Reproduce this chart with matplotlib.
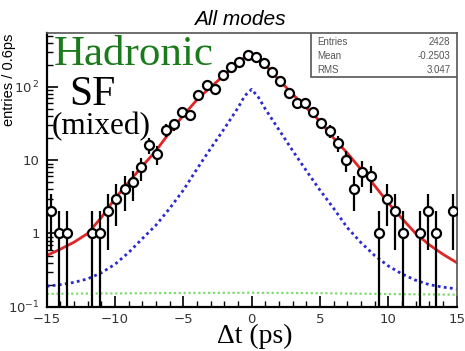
import matplotlib
matplotlib.use("Agg")
import matplotlib.pyplot as plt
from matplotlib.ticker import FixedLocator, LogLocator, MultipleLocator, NullFormatter
import numpy as np

# histogram: 50 bins of 0.6 ps, centres from -14.7 to 14.7
bin_centers = np.arange(50) * 0.6 - 14.7
counts = [2, 1, 1, 0, 0, 1, 1, 2, 3, 4,
          5, 8, 16, 12, 26, 31, 46, 42, 78, 107,
          93, 148, 186, 220, 272, 253, 210, 162, 122, 83,
          60, 60, 45, 32, 25, 17, 10, 4, 7, 6,
          1, 3, 2, 1, 0, 1, 2, 1, 0, 2]

# fit curves
curve_t = [-15, -14, -13, -12, -11, -10, -9, -8, -7, -6, -5, -4, -3, -2, -1, -0.5,
           0, 0.5, 1, 2, 3, 4, 5, 6, 7, 8, 9, 10, 11, 12, 13, 14, 15]
total_fit = [0.5, 0.61, 0.76, 1.0, 1.65, 3.0, 5.0, 8.3, 13.5, 24, 41, 67, 100, 145, 215, 255,
             275, 255, 200, 125, 80, 52, 34, 20, 12.5, 7.5, 4.5, 2.6, 1.6, 1.0, 0.7, 0.52, 0.4]
signal_fit = [0.19, 0.20, 0.215, 0.24, 0.29, 0.38, 0.55, 0.85, 1.3, 2.2, 3.9, 7.6, 14.5, 27, 52, 76,
              93, 72, 50, 26, 13.5, 7.2, 3.9, 2.2, 1.2, 0.75, 0.5, 0.36, 0.28, 0.23, 0.2, 0.185, 0.175]
bkg_t = [-15, -10, -5, 0, 5, 10, 15]
bkg_fit = [0.150, 0.152, 0.154, 0.155, 0.153, 0.149, 0.146]

stats_names = ['Entries', 'Mean', 'RMS']
stats_values = ['2428', '-0.2503', '3.047']

fig = plt.figure(figsize=(4.65, 3.51), dpi=100)
ax = fig.add_axes([0.1004, 0.1262, 0.8816, 0.7788])

ax.set_yscale('log')
ax.plot(bkg_t, bkg_fit, color='#7ddc6e', lw=1.6, linestyle=(0, (1, 1.2)))
ax.plot(curve_t, signal_fit, color='#2a2ad0', lw=2.0, linestyle=(0, (1, 1.2)))
ax.plot(curve_t, total_fit, color='#e02626', lw=2.0)

counts = np.array(counts, dtype=float)
mask = counts > 0
err = np.sqrt(counts[mask])
ax.errorbar(bin_centers[mask], counts[mask], yerr=err, fmt='o', ms=6.5,
            mfc='white', mec='black', mew=1.6, ecolor='black', elinewidth=1.6,
            capsize=0, zorder=5)

ax.set_xlim(-15, 15)
ax.set_ylim(0.1, 540)

ax.xaxis.set_major_locator(MultipleLocator(5))
ax.xaxis.set_minor_locator(MultipleLocator(1))
ax.yaxis.set_major_locator(FixedLocator([0.1, 1, 10, 100]))
ax.yaxis.set_minor_locator(LogLocator(base=10, subs=np.arange(2, 10)))
ax.yaxis.set_minor_formatter(NullFormatter())
ax.set_yticklabels([r'$10^{-1}$', '1', '10', r'$10^{\,2}$'])
ax.tick_params(which='both', direction='in', top=False, right=False,
               labelsize=9.5, labelcolor='#333333')
ax.tick_params(which='major', length=8, width=1.2)
ax.tick_params(which='minor', length=4, width=1.0)
ax.tick_params(axis='y', pad=5)
ax.tick_params(axis='x', pad=4.5)
for side in ['left', 'bottom']:
    ax.spines[side].set_linewidth(1.6)
for side in ['top', 'right']:
    ax.spines[side].set_linewidth(1.2)
    ax.spines[side].set_color('#555555')

fig.text(0.548, 0.024, '\u0394t (ps)', family='Liberation Serif', fontsize=20,
         ha='center', va='baseline')
fig.text(0.019, 0.905, 'entries / 0.6ps', rotation=90, ha='center', va='top',
         fontsize=10.5, family='Liberation Sans')

fig.text(0.516, 0.918, 'All modes', ha='center', va='bottom', style='italic',
         fontsize=15, family='Liberation Sans')

ax.text(0.018, 0.884, 'Hadronic', transform=ax.transAxes, color='#1b7a1b',
        family='Liberation Serif', fontsize=31, va='baseline')
ax.text(0.055, 0.737, 'SF', transform=ax.transAxes, color='black',
        family='Liberation Serif', fontsize=30, va='baseline')
ax.text(0.013, 0.630, '(mixed)', transform=ax.transAxes, color='black',
        family='Liberation Serif', fontsize=22.5, va='baseline')

# statistics box
box_x0, box_y0 = 0.645, 0.84
ax.add_patch(plt.Rectangle((box_x0, box_y0), 1 - box_x0, 1 - box_y0, transform=ax.transAxes,
                           fill=True, facecolor='white', edgecolor='#555555', lw=1.2, zorder=6))
for i, (name, val) in enumerate(zip(stats_names, stats_values)):
    y = 0.97 - i * 0.052
    ax.text(box_x0 + 0.015, y, name, transform=ax.transAxes, fontsize=7,
            color='#555555', va='center', family='Liberation Sans', zorder=7)
    ax.text(0.985, y, val, transform=ax.transAxes, fontsize=7, color='#555555',
            va='center', ha='right', family='Liberation Sans', zorder=7)

fig.savefig('out.png', dpi=100)
